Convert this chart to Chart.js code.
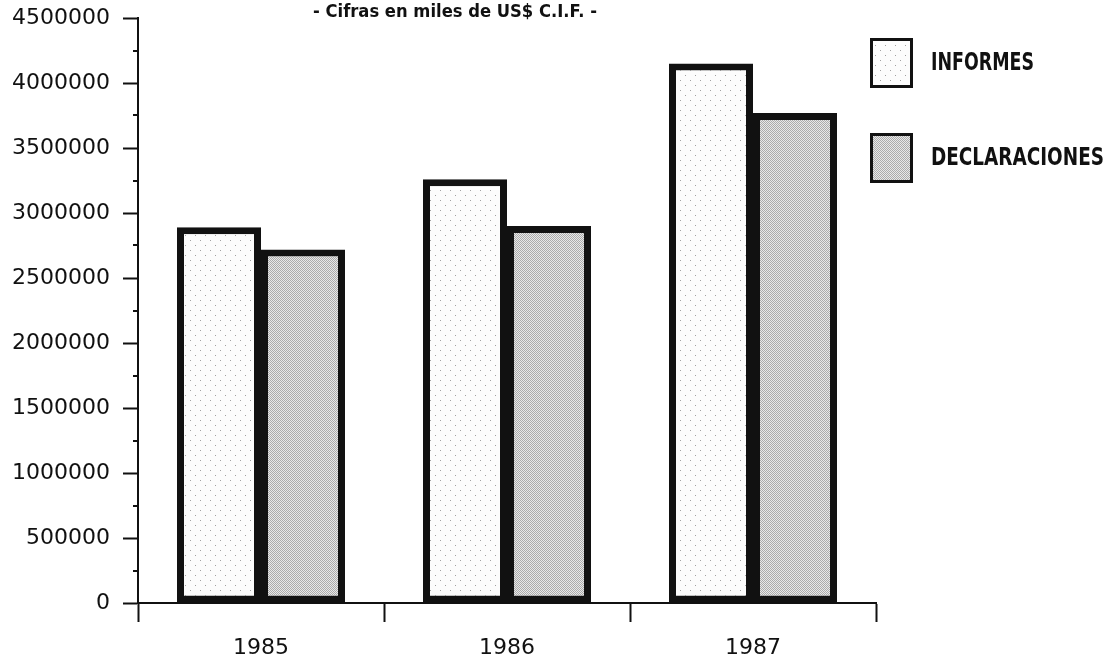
<!DOCTYPE html>
<html>
<head>
<meta charset="utf-8">
<script src="https://cdn.jsdelivr.net/npm/chart.js@4.4.1/dist/chart.umd.min.js"></script>
<style>
  html, body { margin: 0; padding: 0; background: #ffffff; }
  #wrap { width: 1110px; height: 663px; position: relative; }
</style>
</head>
<body>
<div id="wrap"><canvas id="c"></canvas></div>
<script>
const categories = ['1985', '1986', '1987'];
const informes = [2890000, 3260000, 4150000];
const declaraciones = [2720000, 2900000, 3770000];
const seriesLabels = ['INFORMES', 'DECLARACIONES'];
const titleText = '- Cifras en miles de US$ C.I.F. -';
const yMax = 4500000;
const yStep = 250000;

function makePattern(bg, dot, size, dots) {
  const c = document.createElement('canvas');
  c.width = size; c.height = size;
  const x = c.getContext('2d');
  x.fillStyle = bg; x.fillRect(0, 0, size, size);
  x.fillStyle = dot;
  dots.forEach(d => x.fillRect(d[0], d[1], 1, 1));
  return x.createPattern(c, 'repeat');
}
const patInformes = makePattern('#fcfcfc', '#a0a0a0', 10, [[0, 0], [5, 5]]);
const patDecl = makePattern('#e8e8e8', '#ababab', 2, [[0, 0], [1, 1]]);

const titlePlugin = {
  id: 'topTitle',
  afterDraw(chart) {
    const ctx = chart.ctx;
    ctx.save();
    ctx.fillStyle = '#111';
    ctx.font = 'bold 18px "DejaVu Sans"';
    ctx.textAlign = 'center';
    ctx.textBaseline = 'middle';
    ctx.fillText(titleText, 455, 12, 284);
    ctx.restore();
  }
};

const minorTicks = {
  id: 'minorTicks',
  afterDraw(chart) {
    const y = chart.scales.y;
    const ctx = chart.ctx;
    ctx.save();
    ctx.strokeStyle = '#111';
    ctx.lineWidth = 2;
    for (let v = yStep; v < yMax; v += 2 * yStep) {
      const py = Math.round(y.getPixelForValue(v));
      ctx.beginPath();
      ctx.moveTo(y.right - 5, py);
      ctx.lineTo(y.right, py);
      ctx.stroke();
    }
    ctx.restore();
  }
};

const legendPlugin = {
  id: 'boxLegend',
  afterDraw(chart) {
    const ctx = chart.ctx;
    const tops = [38, 133];
    const widths = [103, 173];
    ctx.save();
    chart.data.datasets.forEach((ds, i) => {
      const top = tops[i];
      ctx.fillStyle = ds.backgroundColor;
      ctx.fillRect(870, top, 43, 50);
      ctx.strokeStyle = '#111';
      ctx.lineWidth = 3;
      ctx.strokeRect(871.5, top + 1.5, 40, 47);
      ctx.fillStyle = '#111';
      ctx.font = 'bold 25px "DejaVu Sans"';
      ctx.textAlign = 'left';
      ctx.textBaseline = 'middle';
      ctx.fillText(ds.label, 931, top + 25, widths[i]);
    });
    ctx.restore();
  }
};

const catPct = 168 / 246;

new Chart(document.getElementById('c'), {
  type: 'bar',
  data: {
    labels: categories,
    datasets: [
      { label: seriesLabels[0], data: informes, backgroundColor: patInformes,
        borderColor: '#111', borderWidth: 7, borderSkipped: false,
        barPercentage: 1.0, categoryPercentage: catPct, inflateAmount: 0 },
      { label: seriesLabels[1], data: declaraciones, backgroundColor: patDecl,
        borderColor: '#111', borderWidth: 7, borderSkipped: false,
        barPercentage: 1.0, categoryPercentage: catPct, inflateAmount: 0 }
    ]
  },
  options: {
    responsive: true,
    maintainAspectRatio: false,
    animation: false,
    layout: { padding: { top: 18, right: 234, left: 0, bottom: 0 } },
    plugins: {
      legend: { display: false },
      title: { display: false },
      tooltip: { enabled: false }
    },
    scales: {
      x: {
        afterFit(s) { s.height = 60; s.paddingLeft = 0; s.paddingRight = 0; },
        grid: { display: true, drawOnChartArea: false, offset: true,
                tickLength: 19, tickColor: '#111', tickWidth: 2 },
        border: { display: true, color: '#111', width: 2 },
        ticks: { color: '#111', font: { family: 'DejaVu Sans', size: 22 }, padding: 13 }
      },
      y: {
        min: 0, max: yMax,
        afterFit(s) { s.width = 138; s.paddingTop = 0; s.paddingBottom = 0; },
        grid: { display: true, drawOnChartArea: false, tickLength: 15, tickWidth: 2,
                tickColor: (c) => (c.tick && c.tick.value % 500000 === 0) ? '#111' : 'rgba(0,0,0,0)' },
        border: { display: true, color: '#111', width: 2 },
        ticks: {
          stepSize: yStep,
          autoSkip: false,
          color: '#111',
          padding: 13,
          font: { family: 'DejaVu Sans', size: 22 },
          callback: (v) => (v % 500000 === 0) ? String(v) : ''
        }
      }
    }
  },
  plugins: [titlePlugin, minorTicks, legendPlugin]
});
</script>
</body>
</html>
